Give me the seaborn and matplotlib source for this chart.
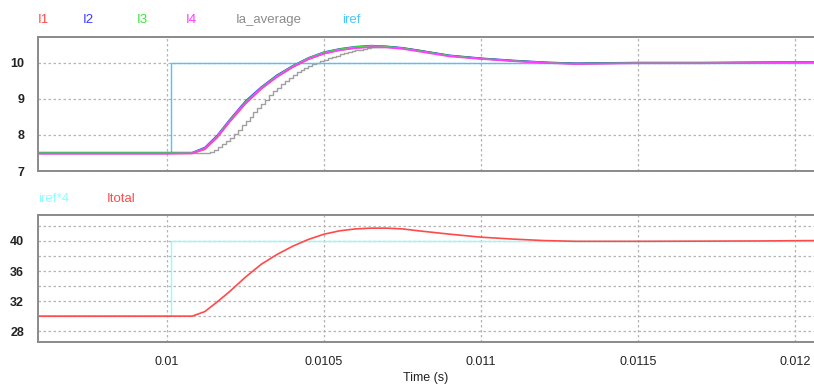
import numpy as np
import pandas as pd
import matplotlib
matplotlib.use("Agg")
import matplotlib.pyplot as plt
import seaborn as sns

sns.set_style("white")
plt.rcParams["font.family"] = ["Liberation Sans", "DejaVu Sans"]

# ---- phase currents (A) on a common time grid (s) ----
t_coarse = [0.00958, 0.01000, 0.01008, 0.01012, 0.01016, 0.01020, 0.01025,
            0.01030, 0.01035, 0.01040, 0.01045, 0.01050, 0.01055, 0.01060,
            0.01065, 0.01070, 0.01075, 0.01080, 0.01090, 0.01100, 0.01110,
            0.01120, 0.01130, 0.01150, 0.01170, 0.01190, 0.01207]

i1 = [7.49, 7.49, 7.49, 7.60, 7.93, 8.37, 8.87, 9.28, 9.61, 9.88, 10.10,
      10.26, 10.36, 10.42, 10.45, 10.45, 10.41, 10.35, 10.20, 10.12, 10.06,
      10.01, 9.98, 10.00, 10.00, 10.01, 10.02]
i2 = [7.51, 7.51, 7.51, 7.65, 7.99, 8.43, 8.94, 9.33, 9.66, 9.92, 10.14,
      10.30, 10.39, 10.45, 10.48, 10.46, 10.42, 10.35, 10.21, 10.13, 10.07,
      10.02, 9.99, 10.01, 10.01, 10.02, 10.03]
i3 = [7.50, 7.50, 7.50, 7.63, 7.97, 8.41, 8.91, 9.31, 9.64, 9.91, 10.13,
      10.29, 10.38, 10.44, 10.47, 10.45, 10.41, 10.34, 10.20, 10.12, 10.06,
      10.01, 9.98, 10.00, 10.00, 10.01, 10.02]
i4 = [7.48, 7.48, 7.49, 7.62, 7.95, 8.39, 8.89, 9.29, 9.62, 9.89, 10.11,
      10.26, 10.35, 10.41, 10.44, 10.43, 10.39, 10.32, 10.18, 10.11, 10.05,
      10.00, 9.97, 9.99, 9.99, 10.00, 10.01]

# ---- sampled phase average (A): held samples during the transient ----
t_avg_fine = list(np.arange(45) * 0.0000125 + 0.01010)
avg_fine = [7.50, 7.50, 7.51, 7.53, 7.59, 7.67, 7.75, 7.83, 7.91, 8.02,
            8.14, 8.27, 8.39, 8.51, 8.63, 8.75, 8.86, 8.98, 9.10, 9.21,
            9.31, 9.41, 9.50, 9.59, 9.67, 9.74, 9.81, 9.87, 9.92, 9.97,
            10.01, 10.05, 10.09, 10.13, 10.17, 10.20, 10.24, 10.27, 10.30,
            10.33, 10.35, 10.37, 10.39, 10.41, 10.42]
# settled part of the average
t_avg_tail = [0.010650, 0.01070, 0.01075, 0.01080, 0.01090, 0.01100, 0.01110,
              0.01120, 0.01130, 0.01150, 0.01170, 0.01190, 0.01207]
avg_tail = [10.42, 10.43, 10.40, 10.34, 10.20, 10.12, 10.06, 10.01, 9.98,
            10.00, 10.00, 10.00, 10.01]
t_avg_head = [0.00958, 0.01010]
avg_head = [7.50, 7.50]

# ---- reference step ----
t_ref = [0.00958, 0.010012, 0.01207]
iref = [7.5, 10.0, 10.0]
iref4 = [30.0, 40.0, 40.0]

# ---- total current (A) ----
i_total = [30.0, 30.0, 30.0, 30.6, 31.9, 33.3, 35.2, 36.9, 38.2, 39.3, 40.2,
           40.9, 41.35, 41.6, 41.7, 41.7, 41.6, 41.35, 40.9, 40.5, 40.25,
           40.05, 39.95, 39.95, 39.97, 40.0, 40.05]

x_ticks = [0.01, 0.0105, 0.011, 0.0115, 0.012]
x_tick_labels = ["0.01", "0.0105", "0.011", "0.0115", "0.012"]

C_I1, C_I2, C_I3, C_I4 = "#ff4a4a", "#3a3aff", "#3ee03e", "#ff3cff"
C_AVG, C_REF, C_REF4, C_TOT = "#a0a0a0", "#4cc4ff", "#8cffff", "#ff4a4a"

W, H = 814, 387
fig = plt.figure(figsize=(W / 100, H / 100), dpi=100)
ax1 = fig.add_axes([38 / W, 1 - 171 / H, (W - 38) / W, 134 / H])
ax2 = fig.add_axes([38 / W, 1 - 341.7 / H, (W - 38) / W, 126.7 / H])

xlim = (0.009589, 0.01206)

# upper panel
line_kw = dict(estimator=None, sort=False)
sns.lineplot(x=t_avg_head, y=avg_head, ax=ax1, color=C_AVG, lw=1.0, **line_kw)
sns.lineplot(x=t_avg_fine, y=avg_fine, ax=ax1, color=C_AVG, lw=1.0,
             drawstyle="steps-post", **line_kw)
sns.lineplot(x=t_avg_tail, y=avg_tail, ax=ax1, color=C_AVG, lw=1.0, **line_kw)
sns.lineplot(x=t_ref, y=iref, ax=ax1, color=C_REF, lw=1.0,
             drawstyle="steps-post", **line_kw)
for y, c in [(i1, C_I1), (i2, C_I2), (i3, C_I3), (i4, C_I4)]:
    sns.lineplot(x=t_coarse, y=y, ax=ax1, color=c, lw=1.2, **line_kw)

# lower panel
sns.lineplot(x=t_ref, y=iref4, ax=ax2, color=C_REF4, lw=1.0,
             drawstyle="steps-post", **line_kw)
sns.lineplot(x=t_coarse, y=i_total, ax=ax2, color=C_TOT, lw=1.2, **line_kw)

grid_kw = dict(color="#b4b4b4", linestyle=(0, (2, 2)), linewidth=0.9)

ax1.set_xlim(*xlim)
ax1.set_ylim(7.0, 10.72)
ax1.set_yticks([7, 8, 9, 10])
ax1.set_xticks(x_ticks)
ax1.set_xticklabels([])

ax2.set_xlim(*xlim)
ax2.set_ylim(26.6, 43.45)
ax2.set_yticks([28, 32, 36, 40])
ax2.set_yticks([30, 34, 38, 42], minor=True)
ax2.set_xticks(x_ticks)
ax2.set_xticklabels(x_tick_labels)
ax2.set_xlabel("Time (s)", fontsize=9, color="#222222", labelpad=3)

for ax in (ax1, ax2):
    ax.grid(True, which="both", **grid_kw)
    ax.set_axisbelow(True)
    ax.tick_params(axis="both", which="both", length=0, labelsize=9,
                   labelcolor="#222222")
    ax.tick_params(axis="y", pad=10)
    ax.tick_params(axis="x", pad=10)
    for s in ("left", "top", "bottom"):
        ax.spines[s].set_color("#8a8a8a")
        ax.spines[s].set_linewidth(1.4)
    ax.spines["right"].set_visible(False)
    ax.set_ylabel("")
    ax.set_facecolor("white")

for lbl in ax1.get_yticklabels() + ax2.get_yticklabels():
    lbl.set_fontweight("bold")

# channel names above each panel
top_names = [("I1", C_I1, 38), ("I2", C_I2, 83), ("I3", C_I3, 137),
             ("I4", C_I4, 186), ("Ia_average", "#8c8c8c", 236), ("iref", C_REF, 342)]
for name, c, xp in top_names:
    fig.text(xp / W, 1 - 20 / H, name, color=c, fontsize=9.5, va="center", ha="left")

bottom_names = [("iref*4", C_REF4, 38), ("Itotal", C_TOT, 107)]
for name, c, xp in bottom_names:
    fig.text(xp / W, 1 - 199 / H, name, color=c, fontsize=9.5, va="center", ha="left")

fig.savefig("out.png", dpi=100, facecolor="white")
